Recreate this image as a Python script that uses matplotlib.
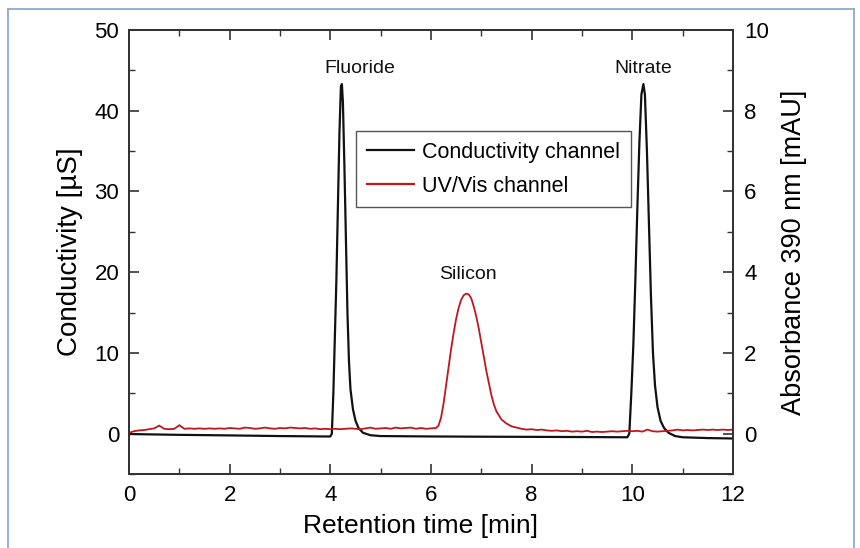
import matplotlib
matplotlib.use("Agg")
import matplotlib.pyplot as plt
from matplotlib.ticker import MultipleLocator
from matplotlib.lines import Line2D

plt.rcParams['font.family'] = ['Liberation Sans', 'DejaVu Sans']

# ---- Conductivity channel (µS) ----
cond_time = [0.0, 0.5, 1.0, 2.0, 3.0, 3.9, 4.00, 4.03, 4.06, 4.09, 4.12, 4.15, 4.18, 4.21,
             4.23, 4.25, 4.28, 4.31, 4.34, 4.37, 4.40, 4.45, 4.50, 4.56, 4.65, 4.80, 5.0,
             6.0, 7.0, 8.0, 9.0, 9.90, 9.94, 9.98, 10.02, 10.06, 10.10, 10.14, 10.18,
             10.22, 10.25, 10.29, 10.33, 10.37, 10.41, 10.45, 10.50, 10.56, 10.63, 10.72,
             10.85, 11.0, 11.5, 12.0]
cond_value = [-0.05, -0.1, -0.15, -0.22, -0.3, -0.35, -0.35, 0.0, 5.0, 12.0, 19.0, 28.0,
              37.0, 43.0, 43.3, 41.0, 33.0, 24.0, 15.0, 9.0, 5.5, 3.0, 1.6, 0.7, 0.1, -0.2,
              -0.3, -0.35, -0.38, -0.4, -0.42, -0.45, 0.0, 5.0, 11.0, 19.0, 28.0, 36.0,
              42.0, 43.3, 42.0, 35.0, 26.0, 17.0, 10.0, 6.0, 3.3, 1.6, 0.7, 0.1, -0.3,
              -0.45, -0.55, -0.6]

# ---- UV/Vis channel (mAU at 390 nm) ----
uv_time = [0.0, 0.1, 0.2, 0.3, 0.4, 0.5, 0.6, 0.7, 0.8, 0.9, 1.0, 1.1, 1.2, 1.3, 1.4,
           1.5, 1.6, 1.7, 1.8, 1.9, 2.0, 2.1, 2.2, 2.3, 2.4, 2.5, 2.6, 2.7, 2.8, 2.9,
           3.0, 3.1, 3.2, 3.3, 3.4, 3.5, 3.6, 3.7, 3.8, 3.9, 4.0, 4.1, 4.2, 4.3, 4.4,
           4.5, 4.6, 4.7, 4.8, 4.9, 5.0, 5.1, 5.2, 5.3, 5.4, 5.5, 5.6, 5.7, 5.8, 5.9,
           6.0, 6.10, 6.15, 6.20, 6.25, 6.30, 6.35, 6.40, 6.45, 6.50, 6.55, 6.60, 6.65,
           6.70, 6.75, 6.80, 6.85, 6.90, 6.95, 7.00, 7.05, 7.10, 7.15, 7.20, 7.25, 7.30,
           7.40, 7.50, 7.60, 7.70, 7.8, 7.9, 8.0, 8.1, 8.2, 8.3, 8.4, 8.5, 8.6, 8.7,
           8.8, 8.9, 9.0, 9.1, 9.2, 9.3, 9.4, 9.5, 9.6, 9.7, 9.8, 9.9, 10.0, 10.1,
           10.2, 10.3, 10.4, 10.5, 10.6, 10.7, 10.8, 10.9, 11.0, 11.1, 11.2, 11.3,
           11.4, 11.5, 11.6, 11.7, 11.8, 11.9, 12.0]
uv_value = [0.02, 0.06, 0.08, 0.09, 0.11, 0.13, 0.20, 0.12, 0.11, 0.12, 0.21, 0.12,
            0.13, 0.12, 0.13, 0.12, 0.13, 0.12, 0.13, 0.12, 0.14, 0.13, 0.12, 0.15,
            0.14, 0.12, 0.13, 0.15, 0.13, 0.12, 0.14, 0.13, 0.15, 0.14, 0.13, 0.14,
            0.12, 0.13, 0.11, 0.12, 0.11, 0.12, 0.11, 0.12, 0.13, 0.12, 0.11, 0.13,
            0.15, 0.12, 0.13, 0.14, 0.12, 0.15, 0.13, 0.14, 0.15, 0.12, 0.14, 0.12,
            0.13, 0.14, 0.20, 0.40, 0.75, 1.20, 1.65, 2.10, 2.50, 2.85, 3.12, 3.32,
            3.43, 3.47, 3.45, 3.35, 3.15, 2.90, 2.60, 2.25, 1.90, 1.55, 1.25, 0.95,
            0.72, 0.55, 0.35, 0.25, 0.18, 0.15, 0.12, 0.10, 0.11, 0.09, 0.10, 0.08,
            0.07, 0.08, 0.06, 0.07, 0.05, 0.06, 0.05, 0.07, 0.04, 0.05, 0.04, 0.05,
            0.06, 0.05, 0.06, 0.07, 0.06, 0.07, 0.05, 0.10, 0.06, 0.05, 0.06, 0.07,
            0.08, 0.10, 0.08, 0.09, 0.08, 0.09, 0.10, 0.09, 0.10, 0.09, 0.10, 0.09,
            0.10]

peak_labels = ["Fluoride", "Silicon", "Nitrate"]
peak_label_x = [4.58, 6.73, 10.21]
peak_label_y = [44.7, 19.2, 44.7]   # in µS axis units (text baseline)

legend_labels = ["Conductivity channel", "UV/Vis channel"]

BLACK = "#111111"
RED = "#c0161e"
SPINE = "#333333"

fig = plt.figure(figsize=(8.6, 5.48), dpi=100)
fig.patch.set_facecolor("white")

# light blue frame around the figure
frame_col = "#8fa9d6"
fig.add_artist(Line2D([8/860, 8/860], [0, 1 - 9/548], transform=fig.transFigure, color=frame_col, lw=1.3))
fig.add_artist(Line2D([8/860, 854/860], [1 - 9/548, 1 - 9/548], transform=fig.transFigure, color=frame_col, lw=1.3))
fig.add_artist(Line2D([854/860, 854/860], [0, 1 - 9/548], transform=fig.transFigure, color=frame_col, lw=1.3))

ax = fig.add_axes([129/860, (548-474)/548, 604/860, 444/548])
ax2 = ax.twinx()

ax.plot(cond_time, cond_value, color=BLACK, lw=1.6, zorder=3)
ax2.plot(uv_time, uv_value, color=RED, lw=1.3, zorder=2)

ax.set_xlim(0, 12)
ax.set_ylim(-5, 50)
ax2.set_ylim(-1, 10)

ax.xaxis.set_major_locator(MultipleLocator(2))
ax.xaxis.set_minor_locator(MultipleLocator(1))
ax.yaxis.set_major_locator(MultipleLocator(10))
ax.yaxis.set_minor_locator(MultipleLocator(5))
ax2.yaxis.set_major_locator(MultipleLocator(2))
ax2.yaxis.set_minor_locator(MultipleLocator(1))

for a in (ax, ax2):
    for s in a.spines.values():
        s.set_linewidth(1.3)
        s.set_color(SPINE)

ax.tick_params(axis='x', which='both', direction='in', top=True, bottom=True,
               labelsize=16, pad=8, color=SPINE)
ax.tick_params(axis='y', which='both', direction='in', left=True, right=False,
               labelsize=16, pad=7, color=SPINE)
ax.tick_params(which='major', length=7, width=1.2)
ax.tick_params(which='minor', length=4, width=1.0)
ax2.tick_params(axis='y', which='both', direction='in', right=True,
                labelsize=16, pad=8, color=SPINE)
ax2.tick_params(which='major', length=7, width=1.2)
ax2.tick_params(which='minor', length=4, width=1.0)

ax.set_xlabel("Retention time [min]", fontsize=19, labelpad=6, x=0.482)
ax.set_ylabel("Conductivity [µS]", fontsize=20, labelpad=8)
ax2.set_ylabel("Absorbance 390 nm [mAU]", fontsize=19.5, labelpad=9)

for lab, x, y in zip(peak_labels, peak_label_x, peak_label_y):
    ax.text(x, y, lab, ha='center', va='baseline', fontsize=14, color="#111111")

handles = [Line2D([], [], color=BLACK, lw=1.6), Line2D([], [], color=RED, lw=1.6)]
leg = ax2.legend(handles, legend_labels, loc='upper left', bbox_to_anchor=(0.376, 0.7725),
                 fontsize=15.5, frameon=True, fancybox=False, framealpha=1,
                 edgecolor="#555555", handlelength=2.2, handletextpad=0.35,
                 labelspacing=0.6, borderpad=0.5, borderaxespad=0)
leg.get_frame().set_linewidth(1.0)

fig.savefig("out.png", dpi=100)
